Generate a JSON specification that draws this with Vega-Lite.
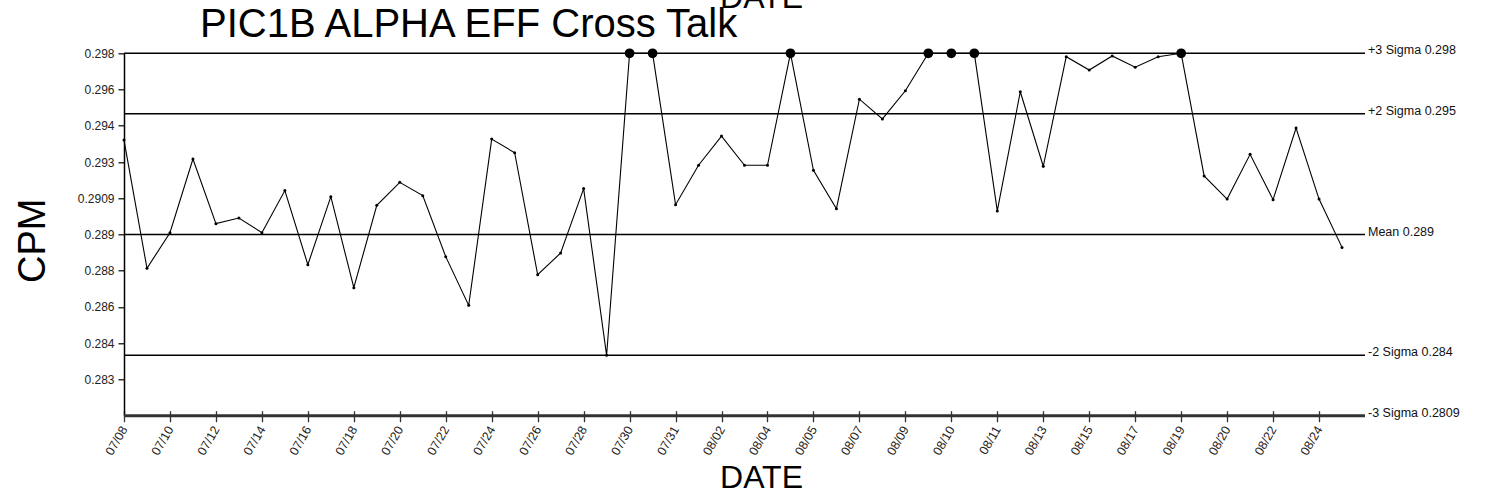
{
  "$schema": "https://vega.github.io/schema/vega-lite/v6.json",
  "width": 1241,
  "height": 362.4,
  "autosize": "none",
  "padding": {"left": 124, "top": 53.3, "right": 121, "bottom": 80.3},
  "background": "white",
  "config": {"view": {"stroke": null}, "font": "Liberation Sans"},
  "title": {
    "text": "PIC1B ALPHA EFF Cross Talk",
    "fontSize": 40,
    "fontWeight": "normal",
    "font": "Liberation Sans",
    "color": "black",
    "anchor": "start",
    "frame": "group",
    "dx": 76,
    "dy": 96,
    "baseline": "alphabetic",
    "offset": 0
  },
  "datasets": {
    "cpm": [
      {"idx": 0, "cpm": 0.29369, "out": false},
      {"idx": 1, "cpm": 0.28732, "out": false},
      {"idx": 2, "cpm": 0.28909, "out": false},
      {"idx": 3, "cpm": 0.29275, "out": false},
      {"idx": 4, "cpm": 0.28954, "out": false},
      {"idx": 5, "cpm": 0.28982, "out": false},
      {"idx": 6, "cpm": 0.28909, "out": false},
      {"idx": 7, "cpm": 0.29118, "out": false},
      {"idx": 8, "cpm": 0.2875, "out": false},
      {"idx": 9, "cpm": 0.29088, "out": false},
      {"idx": 10, "cpm": 0.28636, "out": false},
      {"idx": 11, "cpm": 0.29045, "out": false},
      {"idx": 12, "cpm": 0.29159, "out": false},
      {"idx": 13, "cpm": 0.29093, "out": false},
      {"idx": 14, "cpm": 0.2879, "out": false},
      {"idx": 15, "cpm": 0.28548, "out": false},
      {"idx": 16, "cpm": 0.29374, "out": false},
      {"idx": 17, "cpm": 0.29306, "out": false},
      {"idx": 18, "cpm": 0.287, "out": false},
      {"idx": 19, "cpm": 0.28808, "out": false},
      {"idx": 20, "cpm": 0.29128, "out": false},
      {"idx": 21, "cpm": 0.283, "out": false},
      {"idx": 22, "cpm": 0.298, "out": true},
      {"idx": 23, "cpm": 0.298, "out": true},
      {"idx": 24, "cpm": 0.29048, "out": false},
      {"idx": 25, "cpm": 0.29244, "out": false},
      {"idx": 26, "cpm": 0.29389, "out": false},
      {"idx": 27, "cpm": 0.29244, "out": false},
      {"idx": 28, "cpm": 0.29244, "out": false},
      {"idx": 29, "cpm": 0.298, "out": true},
      {"idx": 30, "cpm": 0.29219, "out": false},
      {"idx": 31, "cpm": 0.29028, "out": false},
      {"idx": 32, "cpm": 0.29572, "out": false},
      {"idx": 33, "cpm": 0.29474, "out": false},
      {"idx": 34, "cpm": 0.29614, "out": false},
      {"idx": 35, "cpm": 0.298, "out": true},
      {"idx": 36, "cpm": 0.298, "out": true},
      {"idx": 37, "cpm": 0.298, "out": true},
      {"idx": 38, "cpm": 0.29017, "out": false},
      {"idx": 39, "cpm": 0.29609, "out": false},
      {"idx": 40, "cpm": 0.29239, "out": false},
      {"idx": 41, "cpm": 0.29783, "out": false},
      {"idx": 42, "cpm": 0.29717, "out": false},
      {"idx": 43, "cpm": 0.29787, "out": false},
      {"idx": 44, "cpm": 0.29731, "out": false},
      {"idx": 45, "cpm": 0.29783, "out": false},
      {"idx": 46, "cpm": 0.298, "out": true},
      {"idx": 47, "cpm": 0.29191, "out": false},
      {"idx": 48, "cpm": 0.29076, "out": false},
      {"idx": 49, "cpm": 0.29298, "out": false},
      {"idx": 50, "cpm": 0.29073, "out": false},
      {"idx": 51, "cpm": 0.29429, "out": false},
      {"idx": 52, "cpm": 0.29076, "out": false},
      {"idx": 53, "cpm": 0.28836, "out": false}
    ],
    "limits": [
      {"label": "+3 Sigma 0.298", "cpm": 0.298},
      {"label": "+2 Sigma 0.295", "cpm": 0.295},
      {"label": "Mean 0.289", "cpm": 0.289},
      {"label": "-2 Sigma 0.284", "cpm": 0.283},
      {"label": "-3 Sigma 0.2809", "cpm": 0.28}
    ]
  },
  "resolve": {"axis": {"x": "independent"}},
  "layer": [
    {
      "data": {"name": "limits"},
      "mark": {"type": "rule"},
      "encoding": {
        "y": {
          "field": "cpm",
          "type": "quantitative",
          "scale": {"domain": [0.28, 0.298], "nice": false, "zero": false},
          "axis": {
            "title": "CPM",
            "titleFontSize": 38,
            "titleFontWeight": "normal",
            "titleColor": "black",
            "titleAngle": 270,
            "titleBaseline": "alphabetic",
            "titleAlign": "center",
            "titleX": -80,
            "titleY": 187,
            "values": [0.298, 0.2962, 0.2944, 0.2926, 0.2908, 0.289, 0.2872, 0.2854, 0.2836, 0.2818],
            "labelExpr": "['0.298','0.296','0.294','0.293','0.2909','0.289','0.288','0.286','0.284','0.283'][round((0.298 - datum.value) / 0.0018)]",
            "labelFontSize": 12,
            "labelColor": "#222",
            "labelPadding": 4,
            "tickSize": 6,
            "tickColor": "black",
            "tickWidth": 1.2,
            "domainColor": "black",
            "domainWidth": 1.5,
            "grid": false
          }
        },
        "strokeWidth": {"condition": {"test": "datum.cpm < 0.2805", "value": 3}, "value": 1.4},
        "color": {"condition": {"test": "datum.cpm < 0.2805", "value": "#333333"}, "value": "black"}
      }
    },
    {
      "data": {"name": "limits"},
      "mark": {"type": "text", "align": "left", "baseline": "alphabetic", "dx": 3, "dy": 1, "fontSize": 12.5, "color": "#111"},
      "encoding": {
        "x": {"datum": 54, "type": "quantitative", "axis": null},
        "y": {"field": "cpm", "type": "quantitative"},
        "text": {"field": "label"}
      }
    },
    {
      "data": {"name": "cpm"},
      "mark": {"type": "line", "color": "black", "strokeWidth": 1.1},
      "encoding": {
        "x": {
          "field": "idx",
          "type": "quantitative",
          "scale": {"domain": [0, 54], "nice": false, "zero": false},
          "axis": {
            "orient": "bottom",
            "offset": -5,
            "domain": false,
            "values": [0, 2, 4, 6, 8, 10, 12, 14, 16, 18, 20, 22, 24, 26, 28, 30, 32, 34, 36, 38, 40, 42, 44, 46, 48, 50, 52],
            "labelExpr": "['07/08','07/10','07/12','07/14','07/16','07/18','07/20','07/22','07/24','07/26','07/28','07/30','07/31','08/02','08/04','08/05','08/07','08/09','08/10','08/11','08/13','08/15','08/17','08/19','08/20','08/22','08/24'][round(datum.value / 2)]",
            "labelAngle": -60,
            "labelAlign": "right",
            "labelBaseline": "middle",
            "labelFontSize": 12.5,
            "labelColor": "#222",
            "labelPadding": 5,
            "labelOverlap": false,
            "labelFlush": false,
            "tickSize": 11,
            "tickColor": "#333",
            "tickWidth": 1.3,
            "grid": false,
            "title": "DATE",
            "titleFontSize": 32,
            "titleFontWeight": "normal",
            "titleColor": "black",
            "titleX": 637,
            "titleY": 77,
            "titleBaseline": "alphabetic",
            "titleAlign": "center"
          }
        },
        "y": {"field": "cpm", "type": "quantitative"}
      }
    },
    {
      "data": {"name": "cpm"},
      "mark": {"type": "circle", "color": "black", "size": 9, "opacity": 1},
      "encoding": {
        "x": {
          "field": "idx",
          "type": "quantitative",
          "axis": {
            "orient": "top",
            "domain": false,
            "ticks": false,
            "labels": false,
            "grid": false,
            "title": "DATE",
            "titleFontSize": 32,
            "titleFontWeight": "normal",
            "titleColor": "black",
            "titleX": 637,
            "titleY": -46,
            "titleBaseline": "alphabetic",
            "titleAlign": "center"
          }
        },
        "y": {"field": "cpm", "type": "quantitative"}
      }
    },
    {
      "data": {"name": "cpm"},
      "transform": [{"filter": "datum.out"}],
      "mark": {"type": "circle", "color": "black", "size": 95, "opacity": 1},
      "encoding": {
        "x": {"field": "idx", "type": "quantitative", "axis": null},
        "y": {"field": "cpm", "type": "quantitative"}
      }
    }
  ]
}
